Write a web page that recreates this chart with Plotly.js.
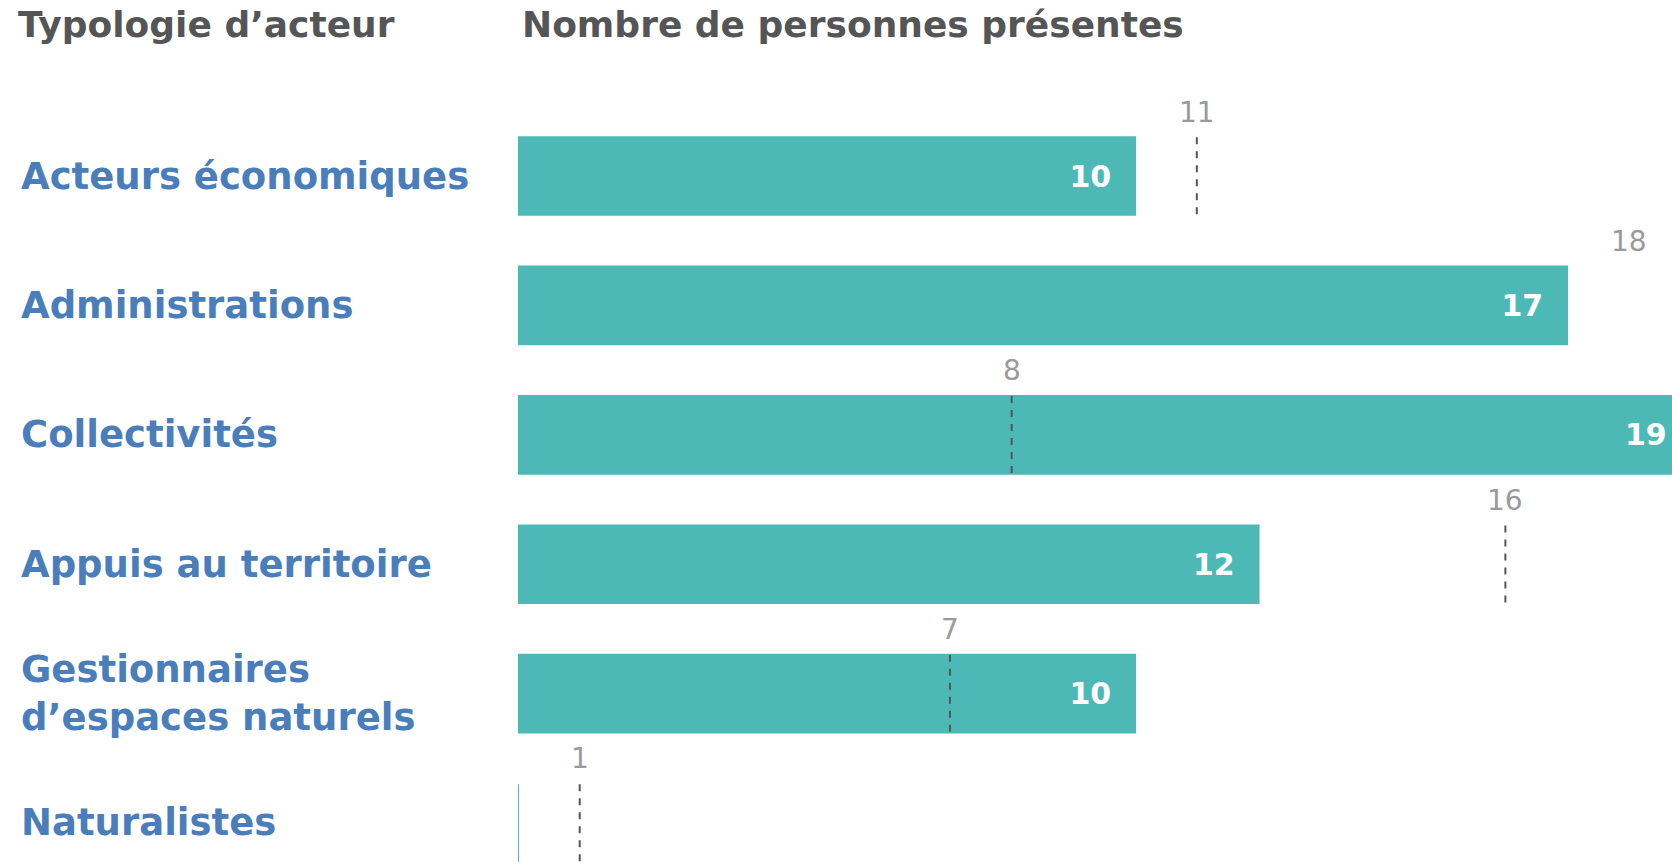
<!DOCTYPE html>
<html>
<head>
<meta charset="utf-8">
<script src="https://cdn.plot.ly/plotly-3.0.1.min.js"></script>
<style>
  html, body { margin: 0; padding: 0; background: #ffffff; }
  #chart { width: 1672px; height: 864px; }
</style>
</head>
<body>
<div id="chart"></div>
<script>
// ---- data ----
var categories = [
  "Acteurs économiques",
  "Administrations",
  "Collectivités",
  "Appuis au territoire",
  "Gestionnaires d’espaces naturels",
  "Naturalistes"
];
var categoryLabels = [
  "Acteurs économiques",
  "Administrations",
  "Collectivités",
  "Appuis au territoire",
  "Gestionnaires<br>d’espaces naturels",
  "Naturalistes"
];
var presentValues = [10, 17, 19, 12, 10, 0];
var referenceValues = [11, 18, 8, 16, 7, 1];
var referenceLineShown = [true, false, true, true, true, true];
var leftTitle = "Typologie d’acteur";
var rightTitle = "Nombre de personnes présentes";

// ---- styles ----
var TEAL = "#4DB9B6";
var BLUE = "#4A7EBB";
var TITLE_GRAY = "#555555";
var LIGHT_GRAY = "#9A9A9A";
var FONT = "DejaVu Sans, sans-serif";

var W = 1672, H = 864;
var marginL = 518, marginT = 90;
var plotH = H - marginT;

var NB = "\u00a0";
var barTexts = presentValues.map(function (v) { return v > 0 ? String(v) + NB + NB : ""; });

var barTrace = {
  type: "bar",
  orientation: "h",
  x: presentValues,
  y: categories,
  width: 0.6,
  marker: { color: TEAL, line: { color: TEAL, width: 2 } },
  text: barTexts,
  textposition: "inside",
  insidetextanchor: "end",
  textangle: 0,
  constraintext: "none",
  textfont: { family: FONT, size: 30, color: "#ffffff", weight: 700 },
  hoverinfo: "x+y",
  showlegend: false
};

var shapes = [];
referenceValues.forEach(function (v, i) {
  if (!referenceLineShown[i]) return;
  shapes.push({
    type: "line", xref: "x", yref: "y",
    x0: v, x1: v, y0: i - 0.3, y1: i + 0.3,
    line: { color: "#555555", width: 2, dash: "7px,7px" },
    layer: "above"
  });
});

var annotations = [];
// category labels (left aligned)
categoryLabels.forEach(function (lab, i) {
  annotations.push({
    xref: "paper", yref: "y",
    x: (19 - marginL) / (W - marginL), y: categories[i],
    xanchor: "left", yanchor: "middle", align: "left",
    text: lab, showarrow: false,
    font: { family: FONT, size: 37, color: BLUE, weight: 700 }
  });
});
// reference value labels
referenceValues.forEach(function (v, i) {
  annotations.push({
    xref: "x", yref: "y", x: v, y: categories[i],
    yshift: 64, xanchor: "center", yanchor: "middle",
    text: String(v), showarrow: false,
    font: { family: FONT, size: 28, color: LIGHT_GRAY }
  });
});
// titles
annotations.push({
  xref: "paper", yref: "paper",
  x: (16 - marginL) / (W - marginL), y: (H - 24) / plotH,
  xanchor: "left", yanchor: "middle",
  text: leftTitle, showarrow: false,
  font: { family: FONT, size: 36, color: TITLE_GRAY, weight: 700 }
});
annotations.push({
  xref: "paper", yref: "paper",
  x: (520 - marginL) / (W - marginL), y: (H - 24) / plotH,
  xanchor: "left", yanchor: "middle",
  text: rightTitle, showarrow: false,
  font: { family: FONT, size: 36, color: TITLE_GRAY, weight: 700 }
});

var layout = {
  width: W, height: H,
  margin: { l: marginL, r: 0, t: marginT, b: 0, pad: 0 },
  paper_bgcolor: "#ffffff",
  plot_bgcolor: "#ffffff",
  showlegend: false,
  font: { family: FONT },
  xaxis: {
    range: [0, 18.70], autorange: false,
    showgrid: false, zeroline: false, showline: false,
    showticklabels: false, ticks: ""
  },
  yaxis: {
    type: "category",
    categoryorder: "array", categoryarray: categories,
    range: [5.317, -0.665], autorange: false,
    showgrid: false, zeroline: false, showline: false,
    showticklabels: false, ticks: ""
  },
  bargap: 0.4,
  shapes: shapes,
  annotations: annotations
};

Plotly.newPlot("chart", [barTrace], layout, { displayModeBar: false, staticPlot: true });
</script>
</body>
</html>
